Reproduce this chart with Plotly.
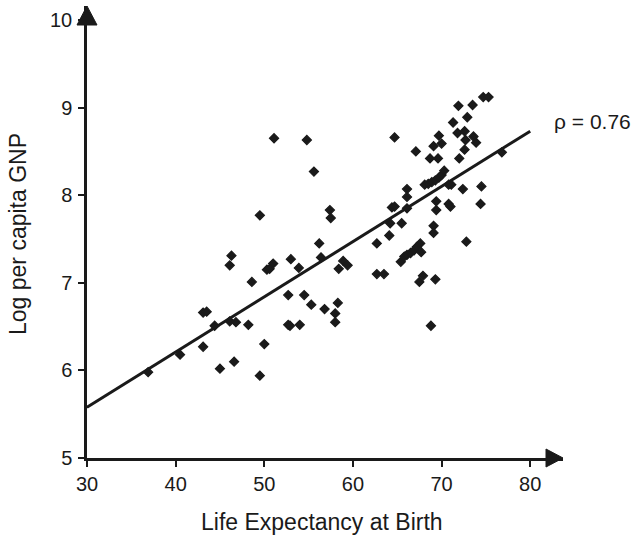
import plotly.graph_objects as go

# Data
life_expectancy = [
    36.9, 40.5, 43.1, 43.5, 43.1, 44.4, 45.0, 46.1, 46.3, 46.1, 46.8, 46.6,
    48.2, 48.6, 49.5, 49.5, 50.0, 50.3, 50.6, 51.0, 51.1, 52.7, 53.0, 52.7,
    52.9, 53.9, 54.0, 54.5, 54.8, 55.3, 55.6, 56.2, 56.4, 56.8, 57.4, 57.5,
    58.0, 58.0, 58.3, 58.4, 58.9, 59.4,
    62.7, 62.7, 63.5, 64.1, 64.2, 64.4, 64.7, 64.7, 65.5, 66.1, 66.1, 66.1,
    65.4, 65.8, 66.1, 66.5, 66.9, 67.2, 67.6, 67.7, 67.1, 67.5, 67.9,
    68.1, 68.5, 68.9, 69.3, 69.7, 70.0, 70.3, 68.7, 69.6, 68.8, 69.1, 69.1,
    69.1, 69.3, 69.4, 69.4, 69.7, 70.0, 70.8, 71.1, 70.8, 71.0, 71.3, 71.8,
    71.9, 72.0, 72.4, 72.6, 72.6, 72.7, 72.9, 72.8, 73.5, 73.6, 73.9, 74.4,
    74.5, 74.7, 75.3, 76.8,
]
log_gnp = [
    5.98, 6.18, 6.66, 6.67, 6.27, 6.51, 6.02, 7.20, 7.31, 6.56, 6.55, 6.10,
    6.52, 7.01, 7.77, 5.94, 6.30, 7.15, 7.16, 7.22, 8.65, 6.86, 7.27, 6.52,
    6.51, 7.17, 6.52, 6.86, 8.63, 6.75, 8.27, 7.45, 7.29, 6.70, 7.83, 7.74,
    6.65, 6.55, 6.77, 7.16, 7.25, 7.20,
    7.45, 7.10, 7.10, 7.54, 7.68, 7.86, 7.87, 8.66, 7.68, 7.85, 8.07, 7.98,
    7.24, 7.30, 7.32, 7.34, 7.37, 7.41, 7.45, 7.35, 8.50, 7.01, 7.08,
    8.12, 8.13, 8.15, 8.17, 8.20, 8.23, 8.28, 8.42, 8.42, 6.51, 8.56, 7.65,
    7.57, 7.04, 7.93, 7.83, 8.68, 8.59, 8.12, 8.12, 7.90, 7.87, 8.83, 8.71,
    9.02, 8.42, 8.07, 8.52, 8.73, 8.63, 8.89, 7.47, 9.03, 8.67, 8.60, 7.90,
    8.10, 9.12, 9.12, 8.49,
]
fit_x = [30, 80]
fit_y = [5.58, 8.73]
x_ticks = [30, 40, 50, 60, 70, 80]
y_ticks = [5, 6, 7, 8, 9, 10]
rho_label = "ρ = 0.76"
x_title = "Life Expectancy at Birth"
y_title = "Log per capita GNP"

W, H = 635, 537
ML, MR, MT, MB = 87, 72, 6, 79
PW, PH = W - ML - MR, H - MT - MB
INK = "#1a1a1a"
FONT = "Liberation Sans, Arial, sans-serif"


def px_x(p):
    return (p - ML) / PW


def px_y(p):
    return (H - MB - p) / PH


fig = go.Figure()
fig.add_trace(go.Scatter(
    x=fit_x, y=fit_y, mode="lines",
    line=dict(color=INK, width=3), hoverinfo="skip", showlegend=False,
))
fig.add_trace(go.Scatter(
    x=life_expectancy, y=log_gnp, mode="markers",
    marker=dict(symbol="diamond", size=7, color=INK, line=dict(color=INK, width=1.2)),
    showlegend=False,
))

# arrowheads at the axis ends
ax_base = 1 - 17 / PW
ax_half = 9 / PH
ay_base = 1 - 19 / PH
ay_half = 10 / PW
fig.add_shape(type="path", xref="paper", yref="paper",
              path=f"M {ax_base},{-ax_half} L 1,0 L {ax_base},{ax_half} Z",
              fillcolor=INK, line=dict(color=INK, width=1))
fig.add_shape(type="path", xref="paper", yref="paper",
              path=f"M {-ay_half},{ay_base} L 0,1 L {ay_half},{ay_base} Z",
              fillcolor=INK, line=dict(color=INK, width=1))

fig.add_annotation(x=px_x(553), y=px_y(122), xref="paper", yref="paper", text=rho_label,
                   showarrow=False, xanchor="left", yanchor="middle", borderpad=0,
                   font=dict(size=21, color=INK, family=FONT))
fig.add_annotation(x=px_x(322), y=px_y(522), xref="paper", yref="paper", text=x_title,
                   showarrow=False, xanchor="center", yanchor="middle",
                   font=dict(size=23, color=INK, family=FONT))
fig.add_annotation(x=px_x(18), y=px_y(234), xref="paper", yref="paper", text=y_title,
                   showarrow=False, xanchor="center", yanchor="middle", textangle=-90,
                   font=dict(size=23, color=INK, family=FONT))

axis_common = dict(
    showgrid=False, zeroline=False, showline=True, linecolor=INK, linewidth=2.5,
    ticks="outside", ticklen=6, tickwidth=1.5, tickcolor=INK, automargin=False,
    tickfont=dict(size=20, color=INK, family=FONT),
)
fig.update_xaxes(range=[30, 83.7], tickvals=x_ticks, **axis_common)
fig.update_yaxes(range=[5, 10.16], tickvals=y_ticks, ticklabelstandoff=2, **axis_common)

fig.update_layout(
    width=W, height=H,
    margin=dict(l=ML, r=MR, t=MT, b=MB, pad=0),
    plot_bgcolor="white", paper_bgcolor="white",
    font=dict(family=FONT, color=INK),
)
fig.write_html(
    "out.html",
    config={"displayModeBar": False},
    post_script="document.body.style.margin='0';document.body.style.overflow='hidden';",
)
